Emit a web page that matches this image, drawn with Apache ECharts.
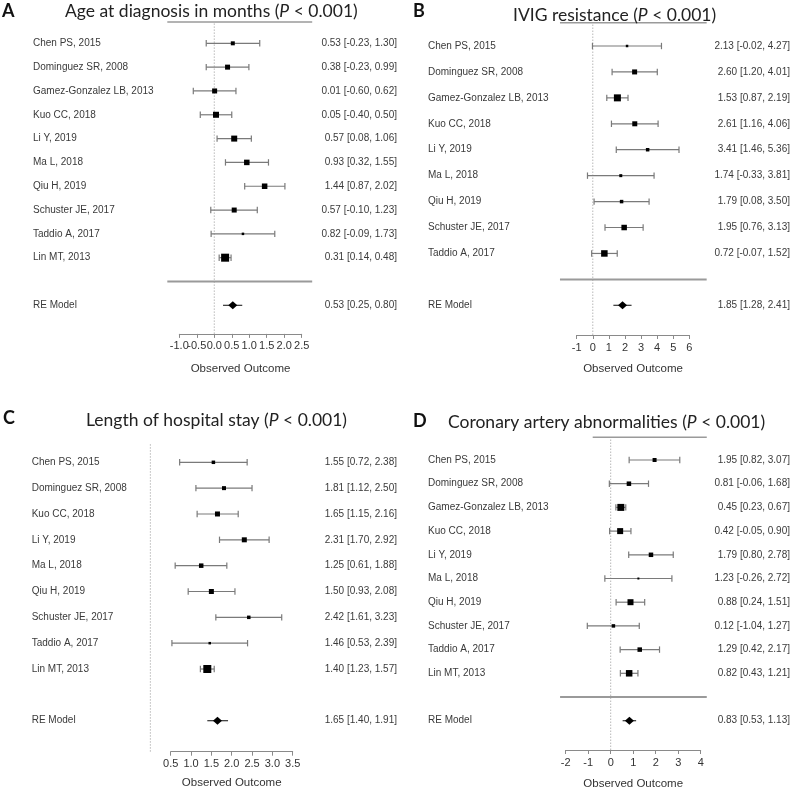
<!DOCTYPE html>
<html>
<head>
<meta charset="utf-8">
<script src="https://cdn.jsdelivr.net/npm/echarts@6/dist/echarts.min.js"></script>
<style>html,body{margin:0;padding:0;background:#fff}#c{width:791px;height:791px}</style>
</head>
<body>
<div id="c"></div>
<script>
// ---------- DATA ----------
const studiesA = ['Chen PS, 2015','Dominguez SR, 2008','Gamez-Gonzalez LB, 2013','Kuo CC, 2018','Li Y, 2019','Ma L, 2018','Qiu H, 2019','Schuster JE, 2017','Taddio A, 2017','Lin MT, 2013'];
const estA = [0.53, 0.38, 0.01, 0.05, 0.57, 0.93, 1.44, 0.57, 0.82, 0.31];
const loA  = [-0.23, -0.23, -0.60, -0.40, 0.08, 0.32, 0.87, -0.10, -0.09, 0.14];
const hiA  = [1.30, 0.99, 0.62, 0.50, 1.06, 1.55, 2.02, 1.23, 1.73, 0.48];
const wtA  = [4, 5, 5, 6, 6, 5.5, 5.5, 5, 2.5, 8];
const reA  = [0.53, 0.25, 0.80];
const ticksA = [-1.0, -0.5, 0.0, 0.5, 1.0, 1.5, 2.0, 2.5];

const studiesB = ['Chen PS, 2015','Dominguez SR, 2008','Gamez-Gonzalez LB, 2013','Kuo CC, 2018','Li Y, 2019','Ma L, 2018','Qiu H, 2019','Schuster JE, 2017','Taddio A, 2017'];
const estB = [2.13, 2.60, 1.53, 2.61, 3.41, 1.74, 1.79, 1.95, 0.72];
const loB  = [-0.02, 1.20, 0.87, 1.16, 1.46, -0.33, 0.08, 0.76, -0.07];
const hiB  = [4.27, 4.01, 2.19, 4.06, 5.36, 3.81, 3.50, 3.13, 1.52];
const wtB  = [2.5, 5, 7, 5, 3.5, 3, 3.5, 5.5, 6.5];
const reB  = [1.85, 1.28, 2.41];

const studiesC = ['Chen PS, 2015','Dominguez SR, 2008','Kuo CC, 2018','Li Y, 2019','Ma L, 2018','Qiu H, 2019','Schuster JE, 2017','Taddio A, 2017','Lin MT, 2013'];
const estC = [1.55, 1.81, 1.65, 2.31, 1.25, 1.50, 2.42, 1.46, 1.40];
const loC  = [0.72, 1.12, 1.15, 1.70, 0.61, 0.93, 1.61, 0.53, 1.23];
const hiC  = [2.38, 2.50, 2.16, 2.92, 1.88, 2.08, 3.23, 2.39, 1.57];
const wtC  = [3.5, 4, 5, 5, 4.5, 5, 3.5, 2.5, 8];
const reC  = [1.65, 1.40, 1.91];

const studiesD = ['Chen PS, 2015','Dominguez SR, 2008','Gamez-Gonzalez LB, 2013','Kuo CC, 2018','Li Y, 2019','Ma L, 2018','Qiu H, 2019','Schuster JE, 2017','Taddio A, 2017','Lin MT, 2013'];
const estD = [1.95, 0.81, 0.45, 0.42, 1.79, 1.23, 0.88, 0.12, 1.29, 0.82];
const loD  = [0.82, -0.06, 0.23, -0.05, 0.80, -0.26, 0.24, -1.04, 0.42, 0.43];
const hiD  = [3.07, 1.68, 0.67, 0.90, 2.78, 2.72, 1.51, 1.27, 2.17, 1.21];
const wtD  = [4, 4.5, 7, 6, 4.5, 2, 6, 3.5, 4.5, 6.5];
const reD  = [0.83, 0.53, 1.13];

const titlesText = ['Age at diagnosis in months', 'IVIG resistance', 'Length of hospital stay', 'Coronary artery abnormalities'];
const panelLetters = ['A', 'B', 'C', 'D'];
const pText = 'P';
const pValueText = ' < 0.001)';
const reLabel = 'RE Model';
const axisName = 'Observed Outcome';

// ---------- LAYOUT ----------
const panels = [
  {names: studiesA, est: estA, lo: loA, hi: hiA, wt: wtA, re: reA, customTicks: ticksA,
   gl: 179.3, gw: 122.4, gt: 19.5, gh: 314.4, xMin: -1, xMax: 2.5, xInt: 0.5, dec: 1,
   yMin: -2.2, yMax: 11, labelX: 33, rightX: 397, topRow: 10.9, refTop: 10.9,
   sep: [-1.343, 2.8], top: [-1.343, 2.8], nameGap: 29,
   title: {lx: 2, ly: 1, tx: 65, ty: 0}},
  {names: studiesB, est: estB, lo: loB, hi: hiB, wt: wtB, re: reB, customTicks: null,
   gl: 576.7, gw: 112.6, gt: 20.07, gh: 314.93, xMin: -1, xMax: 6, xInt: 1, dec: 0,
   yMin: -2.145, yMax: 10, labelX: 428, rightX: 790, topRow: 9.9, refTop: 9.9,
   sep: [-2.04, 7.08], top: [-2.04, 7.08], nameGap: 28,
   title: {lx: 413, ly: 1, tx: 513, ty: 4}},
  {names: studiesC, est: estC, lo: loC, hi: hiC, wt: wtC, re: reC, customTicks: null,
   gl: 170.7, gw: 122, gt: 436.46, gh: 315.24, xMin: 0.5, xMax: 3.5, xInt: 0.5, dec: 1,
   yMin: -2.2, yMax: 10, labelX: 31.7, rightX: 397, topRow: 9.75, refTop: 9.75,
   sep: null, top: null, nameGap: 25,
   title: {lx: 3, ly: 408, tx: 86, ty: 409}},
  {names: studiesD, est: estD, lo: loD, hi: hiD, wt: wtD, re: reD, customTicks: null,
   gl: 565.7, gw: 135, gt: 436.3, gh: 313.7, xMin: -2, xMax: 4, xInt: 1, dec: 0,
   yMin: -2.236, yMax: 11, labelX: 428, rightX: 790, topRow: 10.96, refTop: 10.96,
   sep: [-2.25, 4.27], top: [-0.8, 4.27], nameGap: 28,
   title: {lx: 413, ly: 411, tx: 448, ty: 411}}
];

const labelFont = 'normal 10px "Liberation Sans", Arial, sans-serif';
const tickFont = 'normal 11px "Liberation Sans", Arial, sans-serif';
const textColor = '#3a3a3a';
const fmt = v => v.toFixed(2);
const titleFamily = 'Lato, "Open Sans", sans-serif';

const grids = [], xAxes = [], yAxes = [], series = [], titles = [];

panels.forEach((p, k) => {
  grids.push({left: p.gl, top: p.gt, width: p.gw, height: p.gh, containLabel: false});
  xAxes.push({
    type: 'value', gridIndex: k, min: p.xMin, max: p.xMax, interval: p.xInt,
    splitLine: {show: false},
    axisLine: {show: true, onZero: false, lineStyle: {color: '#8a8a8a', width: 1}},
    axisTick: {show: true, length: 4, lineStyle: {color: '#8a8a8a'}},
    axisLabel: {show: !p.customTicks, margin: 7, color: '#333', fontSize: 11, fontFamily: '"Liberation Sans", Arial, sans-serif',
      formatter: v => v.toFixed(p.dec), hideOverlap: false},
    name: axisName, nameLocation: 'middle', nameGap: p.nameGap,
    nameTextStyle: {color: '#333', fontSize: 11.5, fontFamily: '"Liberation Sans", Arial, sans-serif'}
  });
  yAxes.push({type: 'value', gridIndex: k, min: p.yMin, max: p.yMax, show: false});

  // decorations: reference line at 0, top line, separator, (overlapping) tick labels
  series.push({
    type: 'custom', xAxisIndex: k, yAxisIndex: k, clip: false, z: 1, silent: true,
    data: [[0, p.yMin]],
    renderItem: function (params, api) {
      const ch = [];
      const a = api.coord([0, p.yMin]), b = api.coord([0, p.refTop]);
      ch.push({type: 'line', shape: {x1: a[0], y1: a[1], x2: b[0], y2: b[1]},
        style: {stroke: '#b8b8b8', lineWidth: 1, lineDash: [1.5, 1.5]}});
      if (p.sep) {
        const s1 = api.coord([p.sep[0], 0]), s2 = api.coord([p.sep[1], 0]);
        ch.push({type: 'line', shape: {x1: s1[0], y1: s1[1], x2: s2[0], y2: s2[1]},
          style: {stroke: '#9a9a9a', lineWidth: 2}});
      }
      if (p.top) {
        const t1 = api.coord([p.top[0], p.topRow]), t2 = api.coord([p.top[1], p.topRow]);
        ch.push({type: 'line', shape: {x1: t1[0], y1: t1[1], x2: t2[0], y2: t2[1]},
          style: {stroke: '#9a9a9a', lineWidth: 1.5}});
      }
      if (p.customTicks) {
        p.customTicks.forEach(t => {
          const c = api.coord([t, p.yMin]);
          ch.push({type: 'text', x: c[0], y: c[1] + 7,
            style: {text: t.toFixed(p.dec), font: tickFont, fill: '#333', align: 'center', verticalAlign: 'top'}});
        });
      }
      return {type: 'group', children: ch};
    }
  });

  // studies + RE
  const n = p.names.length;
  const data = p.names.map((nm, i) => [p.est[i], p.lo[i], p.hi[i], n - i, p.wt[i], 0, i]);
  data.push([p.re[0], p.re[1], p.re[2], -1, 9, 1, -1]);
  series.push({
    type: 'custom', xAxisIndex: k, yAxisIndex: k, clip: false, z: 3, silent: true,
    encode: {x: [0, 1, 2], y: 3},
    data: data,
    renderItem: function (params, api) {
      const est = api.value(0), lo = api.value(1), hi = api.value(2), row = api.value(3);
      const sz = api.value(4), kind = api.value(5), idx = api.value(6);
      const pe = api.coord([est, row]), pl = api.coord([lo, row]), ph = api.coord([hi, row]);
      const y = pe[1];
      const ch = [];
      ch.push({type: 'line', shape: {x1: pl[0], y1: y, x2: ph[0], y2: y},
        style: {stroke: kind ? '#333' : '#7a7a7a', lineWidth: 1.2}});
      if (!kind) {
        [pl[0], ph[0]].forEach(x => ch.push({type: 'line', shape: {x1: x, y1: y - 3.2, x2: x, y2: y + 3.2},
          style: {stroke: '#7a7a7a', lineWidth: 1.2}}));
        ch.push({type: 'rect', shape: {x: pe[0] - sz / 2, y: y - sz / 2, width: sz, height: sz},
          style: {fill: '#000'}});
      } else {
        const h = sz / 2;
        ch.push({type: 'polygon', shape: {points: [[pe[0] - h, y], [pe[0], y - h * 0.9], [pe[0] + h, y], [pe[0], y + h * 0.9]]},
          style: {fill: '#000'}});
      }
      const name = kind ? reLabel : p.names[idx];
      ch.push({type: 'text', x: p.labelX, y: y,
        style: {text: name, font: labelFont, fill: textColor, align: 'left', verticalAlign: 'middle'}});
      ch.push({type: 'text', x: p.rightX, y: y,
        style: {text: fmt(est) + ' [' + fmt(lo) + ', ' + fmt(hi) + ']', font: labelFont, fill: textColor, align: 'right', verticalAlign: 'middle'}});
      return {type: 'group', children: ch};
    }
  });

  titles.push({
    text: panelLetters[k], left: p.title.lx, top: p.title.ly, padding: 0,
    textStyle: {fontSize: 18, fontWeight: 'bold', color: '#111', fontFamily: titleFamily, lineHeight: 20}
  });
  titles.push({
    text: '{n|' + titlesText[k] + ' (}{i|' + pText + '}{n|' + pValueText + '}', left: p.title.tx, top: p.title.ty, padding: 0,
    textStyle: {
      fontWeight: 'normal',
      rich: {
        n: {fontSize: 17.5, fontWeight: 'normal', color: '#222', fontFamily: titleFamily, lineHeight: 22},
        i: {fontSize: 17.5, fontWeight: 'normal', color: '#222', fontStyle: 'italic', fontFamily: titleFamily, lineHeight: 22}
      }
    }
  });
});

const chart = echarts.init(document.getElementById('c'), null, {renderer: 'canvas'});
chart.setOption({
  animation: false,
  backgroundColor: '#fff',
  title: titles,
  grid: grids,
  xAxis: xAxes,
  yAxis: yAxes,
  series: series
});
</script>
</body>
</html>
